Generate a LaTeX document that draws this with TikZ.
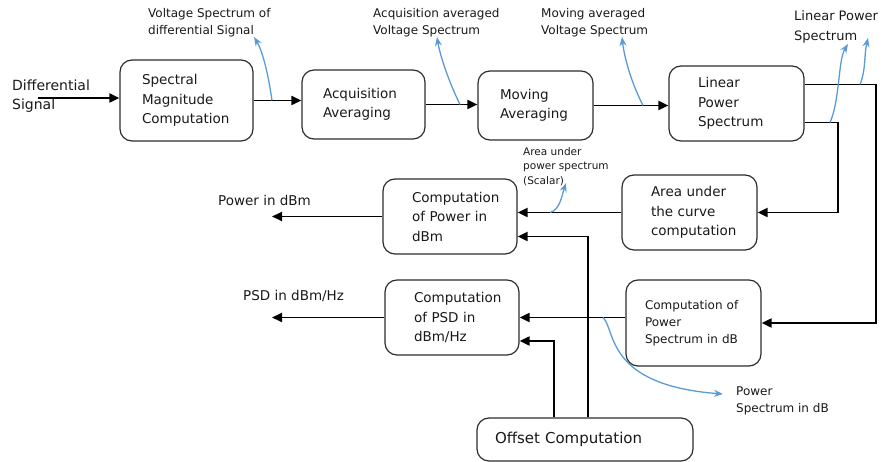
\documentclass[tikz,border=0pt]{standalone}
\usepackage{fontspec}
\setmainfont{DejaVu Sans}
\usepackage{xcolor}
\definecolor{tapBlue}{RGB}{91,155,213}
\definecolor{boxGray}{RGB}{45,45,45}
\definecolor{txtGray}{RGB}{25,25,25}
\usetikzlibrary{arrows.meta, positioning, calc}

\begin{document}
\begin{tikzpicture}[x=1pt, y=-1pt, text=txtGray,
  blk/.style={rectangle, draw=boxGray, line width=1.2pt, rounded corners=12pt,
              align=left, inner ysep=0pt, font=\fontsize{13.5}{19.5}\selectfont},
  lbl/.style={anchor=west, align=left, inner sep=0pt, font=\fontsize{12}{17}\selectfont},
  flow/.style={draw=black, line width=1.9pt, -{Triangle[length=10pt,width=9pt]}},
  tap/.style={draw=tapBlue, line width=1.3pt, -{Stealth[length=9pt,width=7pt]}}]

  \useasboundingbox (0,0) rectangle (892,462);

  % ---- Processing chain ----
  \node[blk, minimum height=81, text width=89, inner xsep=22] (smc) at (186.5,100.5)
       {Spectral\\Magnitude\\Computation};
  \node[blk, minimum height=69, text width=81, inner xsep=21] (acq) at (363.5,104.5)
       {Acquisition\\Averaging};
  \node[blk, minimum height=69, text width=71, inner xsep=22] (mov) at (535.5,105.5)
       {Moving\\Averaging};
  \node[blk, minimum height=75, text width=77, inner xsep=29] (lps) at (736.5,103.5)
       {Linear\\Power\\Spectrum};

  % ---- Computation blocks ----
  \node[blk, minimum height=75, text width=77, inner xsep=29] (auc) at (689.5,212.5)
       {Area under\\the curve\\computation};
  \node[blk, minimum height=75, text width=76, inner xsep=29] (pwr) at (450,216.5)
       {Computation\\of Power in\\dBm};
  \node[blk, minimum height=75, text width=76, inner xsep=29] (psd) at (452,317.5)
       {Computation\\of PSD in\\dBm/Hz};
  \node[blk, minimum height=86, text width=97, inner xsep=19,
        font=\fontsize{12}{17}\selectfont] (pdb) at (693.5,323)
       {Computation of\\Power\\Spectrum in dB};
  \node[blk, minimum height=43, text width=180, inner xsep=18,
        font=\fontsize{15}{18}\selectfont] (off) at (585,439.5)
       {Offset Computation};

  % ---- Labels ----
  \node[lbl, font=\fontsize{14}{19}\selectfont] (din) at (12,96.5) {Differential\\Signal};
  \node[lbl] (vsd) at (148,22.5) {Voltage Spectrum of\\differential Signal};
  \node[lbl] (vsa) at (373,23) {Acquisition averaged\\Voltage Spectrum};
  \node[lbl] (vsm) at (541,23) {Moving averaged\\Voltage Spectrum};
  \node[lbl, font=\fontsize{13}{20}\selectfont] (lpl) at (794,27) {Linear Power\\Spectrum};
  \node[lbl, font=\fontsize{10.5}{14.5}\selectfont] (aul) at (523,166.5)
       {Area under\\power spectrum\\(Scalar)};
  \node[lbl, font=\fontsize{13.5}{17}\selectfont] (pdbm) at (218,200) {Power in dBm};
  \node[lbl, font=\fontsize{13.5}{17}\selectfont] (psdl) at (243,296) {PSD in dBm/Hz};
  \node[lbl] (pdl) at (736,401) {Power\\Spectrum in dB};

  % ---- Free ends and bends ----
  \coordinate (sin)  at (38,98);
  \coordinate (xout) at (272,0);
  \coordinate (xr)   at (876,0);
  \coordinate (xm)   at (838,0);
  \coordinate (xo1)  at (588,0);
  \coordinate (xo2)  at (554,0);

  % ---- Black flow ----
  \draw[flow] (sin) -- (sin -| smc.west);
  \draw[flow] (smc) -- (smc -| acq.west);
  \draw[flow] (acq) -- (acq -| mov.west);
  \draw[flow] (mov) -- (mov -| lps.west);
  \draw[flow] ([yshift=19pt]lps.east) -| (xr |- pdb) -- (pdb);
  \draw[flow] ([yshift=-19pt]lps.east) -| (xm |- auc) -- (auc);
  \draw[flow] (auc) -- (auc -| pwr.east);
  \draw[flow] (psd -| pdb.west) -- (psd);
  \draw[flow] (off.north -| xo1) |- ([yshift=-20pt]pwr.east);
  \draw[flow] (off.north -| xo2) |- ([yshift=-23.5pt]psd.east);
  \draw[flow] (pwr) -- (pwr -| xout);
  \draw[flow] (psd) -- (psd -| xout);

  % ---- Blue taps ----
  \coordinate (t1) at (272,100.5);  \coordinate (t1e) at (254,37);
  \coordinate (t2) at (460,104.5);  \coordinate (t2e) at (437,37);
  \coordinate (t3) at (643,105.5);  \coordinate (t3e) at (622,37);
  \coordinate (t4) at (830,122.5);  \coordinate (t4e) at (848,44);
  \coordinate (t5) at (860,84.5);   \coordinate (t5e) at (868,38);
  \coordinate (t6) at (550,212.5);  \coordinate (t6e) at (566,183);
  \coordinate (t7) at (603,317.5);  \coordinate (t7e) at (723,394);

  \draw[tap] (t1) .. controls (268,72) and (262,50) .. (t1e);
  \draw[tap] (t2) .. controls (448,80) and (440,55) .. (t2e);
  \draw[tap] (t3) .. controls (630,80) and (624,55) .. (t3e);
  \draw[tap] (t4) .. controls (840,100) and (838,60) .. (t4e);
  \draw[tap] (t5) .. controls (866,70) and (864,55) .. (t5e);
  \draw[tap] (t6) .. controls (560,210) and (562,195) .. (t6e);
  \draw[tap] (t7) .. controls (616,330) and (605,385) .. (t7e);

\end{tikzpicture}
\end{document}
